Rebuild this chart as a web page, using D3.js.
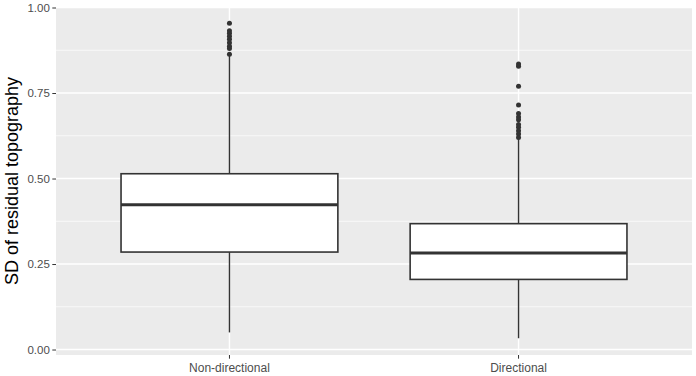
<!DOCTYPE html>
<html>
<head>
<meta charset="utf-8">
<script src="https://cdnjs.cloudflare.com/ajax/libs/d3/7.8.5/d3.min.js"></script>
<style>
  body { margin: 0; background: #fff; }
  text { font-family: "Liberation Sans", Arial, sans-serif; }
</style>
</head>
<body>
<script>
// categories and box statistics
var groups = ["Non-directional", "Directional"];
var q1 = [0.285, 0.205];
var medians = [0.423, 0.282];
var q3 = [0.514, 0.368];
var whiskerLow = [0.050, 0.033];
var whiskerHigh = [0.863, 0.615];
var outliersNonDir = [0.954, 0.932, 0.925, 0.916, 0.907, 0.897, 0.887, 0.880, 0.863];
var outliersDir = [0.835, 0.828, 0.770, 0.715, 0.690, 0.680, 0.672, 0.658, 0.650, 0.640, 0.630, 0.620];
var yTicks = [0, 0.25, 0.5, 0.75, 1];
var yMinor = [0.125, 0.375, 0.625, 0.875];

var width = 696, height = 376;
var margin = { left: 56, right: 4, top: 7, bottom: 21 };
var innerW = width - margin.left - margin.right;
var innerH = height - margin.top - margin.bottom;

var svg = d3.select("body").append("svg")
  .attr("width", width)
  .attr("height", height);

var chartGroup = svg.append("g")
  .attr("transform", "translate(" + margin.left + "," + margin.top + ")");

var y = d3.scaleLinear()
  .domain([-0.016, 1.0015])
  .range([innerH, 0]);

// discrete axis, 0.6 of a step of room at each end like ggplot
var band = d3.scaleBand()
  .domain(groups)
  .range([0, innerW])
  .paddingInner(0)
  .paddingOuter(0.1);
var x = function(g) { return band(g) + band.bandwidth() / 2; };
var boxW = 0.75 * band.bandwidth();

// panel background
chartGroup.append("rect")
  .attr("width", innerW)
  .attr("height", innerH)
  .attr("fill", "#EBEBEB");

// minor gridlines
chartGroup.selectAll("line.minor")
  .data(yMinor).enter().append("line")
  .attr("class", "minor")
  .attr("x1", 0).attr("x2", innerW)
  .attr("y1", d => y(d)).attr("y2", d => y(d))
  .attr("stroke", "#fff").attr("stroke-width", 0.7);

// major gridlines
chartGroup.selectAll("line.major")
  .data(yTicks).enter().append("line")
  .attr("class", "major")
  .attr("x1", 0).attr("x2", innerW)
  .attr("y1", d => y(d)).attr("y2", d => y(d))
  .attr("stroke", "#fff").attr("stroke-width", 1.4);

chartGroup.selectAll("line.vgrid")
  .data(groups).enter().append("line")
  .attr("class", "vgrid")
  .attr("x1", d => x(d)).attr("x2", d => x(d))
  .attr("y1", 0).attr("y2", innerH)
  .attr("stroke", "#fff").attr("stroke-width", 1.4);

// y axis
var yAxis = d3.axisLeft(y)
  .tickValues(yTicks)
  .tickFormat(d3.format(".2f"))
  .tickSize(3.7)
  .tickPadding(2.5);
var yg = chartGroup.append("g").call(yAxis);
yg.select(".domain").remove();
yg.selectAll("line").attr("stroke", "#333333").attr("stroke-width", 1);
yg.selectAll("text").attr("fill", "#4D4D4D").style("font-size", "11.5px");

// x axis
var xAxis = d3.axisBottom(band)
  .tickSize(3.7)
  .tickPadding(5);
var xg = chartGroup.append("g")
  .attr("transform", "translate(0," + innerH + ")")
  .call(xAxis);
xg.select(".domain").remove();
xg.selectAll("line").attr("stroke", "#333333").attr("stroke-width", 1);
xg.selectAll("text").attr("fill", "#4D4D4D").style("font-size", "12px");

// boxes
var outliers = [outliersNonDir, outliersDir];
groups.forEach(function(g, i) {
  var cx = x(g);
  chartGroup.append("line")
    .attr("x1", cx).attr("x2", cx)
    .attr("y1", y(q3[i])).attr("y2", y(whiskerHigh[i]))
    .attr("stroke", "#333333").attr("stroke-width", 1.4);
  chartGroup.append("line")
    .attr("x1", cx).attr("x2", cx)
    .attr("y1", y(q1[i])).attr("y2", y(whiskerLow[i]))
    .attr("stroke", "#333333").attr("stroke-width", 1.4);
  chartGroup.append("rect")
    .attr("x", cx - boxW / 2)
    .attr("y", y(q3[i]))
    .attr("width", boxW)
    .attr("height", y(q1[i]) - y(q3[i]))
    .attr("fill", "#fff")
    .attr("stroke", "#333333")
    .attr("stroke-width", 1.6);
  chartGroup.append("line")
    .attr("x1", cx - boxW / 2).attr("x2", cx + boxW / 2)
    .attr("y1", y(medians[i])).attr("y2", y(medians[i]))
    .attr("stroke", "#333333").attr("stroke-width", 3);
  chartGroup.selectAll("circle.g" + i)
    .data(outliers[i]).enter().append("circle")
    .attr("class", "g" + i)
    .attr("cx", cx)
    .attr("cy", d => y(d))
    .attr("r", 2.5)
    .attr("fill", "#333333");
});

// y axis title
svg.append("text")
  .attr("transform", "translate(18," + (margin.top + innerH / 2) + ") rotate(-90)")
  .attr("text-anchor", "middle")
  .attr("fill", "#000")
  .style("font-size", "18px")
  .text("SD of residual topography");
</script>
</body>
</html>
